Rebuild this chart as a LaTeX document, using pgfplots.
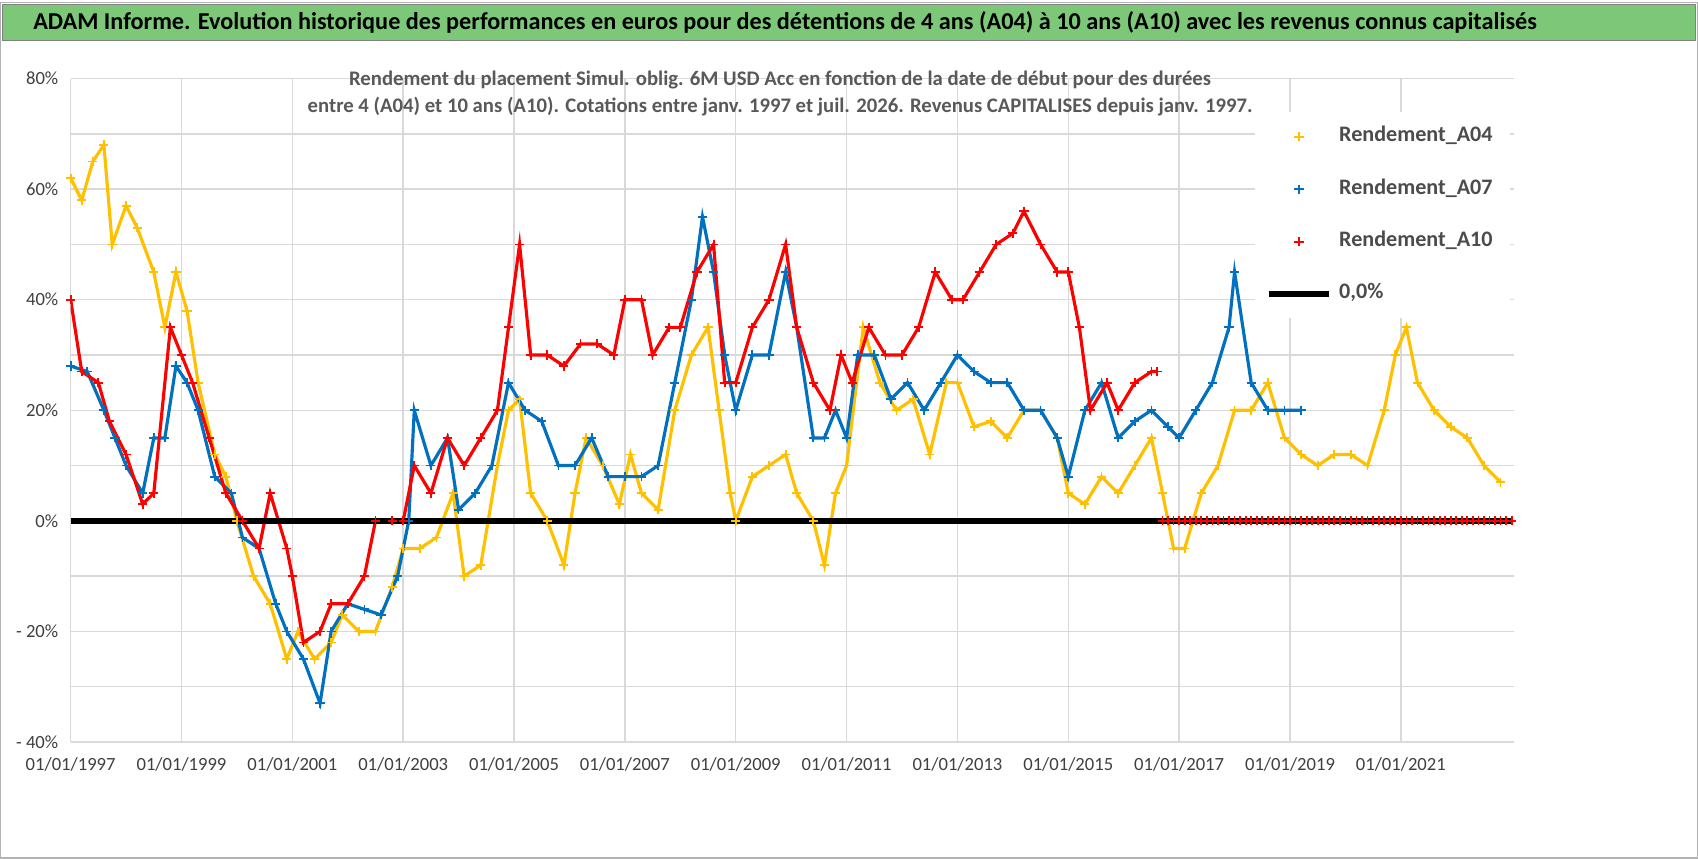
\documentclass[border=0pt]{standalone}
\usepackage{pgfplots}
\pgfplotsset{compat=1.18}
\usepackage{fontspec}
\setmainfont{Carlito}
\definecolor{cA}{RGB}{255,192,0}
\definecolor{cB}{RGB}{0,112,192}
\definecolor{cC}{RGB}{255,0,0}
\begin{document}
\begin{tikzpicture}
\path[fill=white,draw=gray!60] (0,0) rectangle (169.8mm,85.6mm);
\path[fill={rgb,255:red,125;green,200;blue,120},draw=gray] (0.2mm,81.8mm) rectangle (169.6mm,85.4mm);
\node[font=\fontsize{6.9}{8}\selectfont\bfseries] at (78.5mm,83.6mm) {ADAM Informe. Evolution historique des performances en euros pour des détentions de 4 ans (A04) à 10 ans (A10) avec les revenus connus capitalisés};
\begin{axis}[at={(7mm,11.6mm)},anchor=south west,scale only axis,width=144.5mm,height=66.4mm,
 xmin=1997,xmax=2023.05,ymin=-40,ymax=80,
 xtick={1997,1999,...,2021},
 xticklabels={01/01/1997,01/01/1999,01/01/2001,01/01/2003,01/01/2005,01/01/2007,01/01/2009,01/01/2011,01/01/2013,01/01/2015,01/01/2017,01/01/2019,01/01/2021},
 ytick={-40,-20,0,20,40,60,80},
 yticklabels={- 40\%,- 20\%,0\%,20\%,40\%,60\%,80\%},
 minor ytick={-30,-10,10,30,50,70},
 xmajorgrids,ymajorgrids,yminorgrids,
 grid style={gray!30,line width=0.4pt},
 minor grid style={gray!30,line width=0.4pt},
 axis line style={draw=none},tick style={draw=none},
 tick label style={font=\fontsize{5.3}{6}\selectfont,text=black!75},
 /pgf/number format/assume math mode=true,
 xticklabel style={yshift=-1pt},
 legend style={at={(0.82,0.95)},anchor=north west,draw=none,fill=white,font=\fontsize{6.3}{7.5}\selectfont\bfseries,text=black!70,row sep=5pt},
 legend cell align=left,
 every axis plot/.append style={mark=+,mark size=1.3pt,line width=0.9pt,mark options={line width=0.5pt}}]
\addplot[cA,legend image post style={only marks}] coordinates {(1997.0,62)(1997.2,58)(1997.4,65)(1997.6,68)(1997.75,50)(1998.0,57)(1998.2,53)(1998.5,45)(1998.7,35)(1998.9,45)(1999.1,38)(1999.3,25)(1999.6,12)(1999.8,8)(2000.0,0)(2000.3,-10)(2000.6,-15)(2000.9,-25)(2001.1,-20)(2001.4,-25)(2001.7,-22)(2001.9,-17)(2002.2,-20)(2002.5,-20)(2002.8,-12)(2003.0,-5)(2003.3,-5)(2003.6,-3)(2003.9,5)(2004.1,-10)(2004.4,-8)(2004.7,10)(2004.9,20)(2005.1,22)(2005.3,5)(2005.6,0)(2005.9,-8)(2006.1,5)(2006.3,15)(2006.6,10)(2006.9,3)(2007.1,12)(2007.3,5)(2007.6,2)(2007.9,20)(2008.2,30)(2008.5,35)(2008.7,20)(2008.9,5)(2009.0,0)(2009.3,8)(2009.6,10)(2009.9,12)(2010.1,5)(2010.4,0)(2010.6,-8)(2010.8,5)(2011.0,10)(2011.3,35)(2011.6,25)(2011.9,20)(2012.2,22)(2012.5,12)(2012.8,25)(2013.0,25)(2013.3,17)(2013.6,18)(2013.9,15)(2014.2,20)(2014.5,20)(2014.8,15)(2015.0,5)(2015.3,3)(2015.6,8)(2015.9,5)(2016.2,10)(2016.5,15)(2016.7,5)(2016.9,-5)(2017.1,-5)(2017.4,5)(2017.7,10)(2018.0,20)(2018.3,20)(2018.6,25)(2018.9,15)(2019.2,12)(2019.5,10)(2019.8,12)(2020.1,12)(2020.4,10)(2020.7,20)(2020.9,30)(2021.1,35)(2021.3,25)(2021.6,20)(2021.9,17)(2022.2,15)(2022.5,10)(2022.8,7)};
\addlegendentry{Rendement\_A04}
\addplot[cB,legend image post style={only marks}] coordinates {(1997.0,28)(1997.3,27)(1997.6,20)(1997.8,15)(1998.0,10)(1998.3,5)(1998.5,15)(1998.7,15)(1998.9,28)(1999.1,25)(1999.3,20)(1999.6,8)(1999.9,5)(2000.1,-3)(2000.4,-5)(2000.7,-15)(2000.9,-20)(2001.2,-25)(2001.5,-33)(2001.7,-20)(2002.0,-15)(2002.3,-16)(2002.6,-17)(2002.9,-10)(2003.1,0)(2003.2,20)(2003.5,10)(2003.8,15)(2004.0,2)(2004.3,5)(2004.6,10)(2004.9,25)(2005.2,20)(2005.5,18)(2005.8,10)(2006.1,10)(2006.4,15)(2006.7,8)(2007.0,8)(2007.3,8)(2007.6,10)(2007.9,25)(2008.2,40)(2008.4,55)(2008.6,45)(2008.8,30)(2009.0,20)(2009.3,30)(2009.6,30)(2009.9,45)(2010.1,35)(2010.4,15)(2010.6,15)(2010.8,20)(2011.0,15)(2011.2,30)(2011.5,30)(2011.8,22)(2012.1,25)(2012.4,20)(2012.7,25)(2013.0,30)(2013.3,27)(2013.6,25)(2013.9,25)(2014.2,20)(2014.5,20)(2014.8,15)(2015.0,8)(2015.3,20)(2015.6,25)(2015.9,15)(2016.2,18)(2016.5,20)(2016.8,17)(2017.0,15)(2017.3,20)(2017.6,25)(2017.9,35)(2018.0,45)(2018.3,25)(2018.6,20)(2018.9,20)(2019.2,20)};
\addlegendentry{Rendement\_A07}
\addplot[cC,legend image post style={only marks}] coordinates {(1997.0,40)(1997.2,27)(1997.5,25)(1997.7,18)(1998.0,12)(1998.3,3)(1998.5,5)(1998.8,35)(1999.0,30)(1999.2,25)(1999.5,15)(1999.8,5)(2000.1,0)(2000.4,-5)(2000.6,5)(2000.9,-5)(2001.0,-10)(2001.2,-22)(2001.5,-20)(2001.7,-15)(2002.0,-15)(2002.3,-10)(2002.5,0)(2002.8,0)(2003.0,0)(2003.2,10)(2003.5,5)(2003.8,15)(2004.1,10)(2004.4,15)(2004.7,20)(2004.9,35)(2005.1,50)(2005.3,30)(2005.6,30)(2005.9,28)(2006.2,32)(2006.5,32)(2006.8,30)(2007.0,40)(2007.3,40)(2007.5,30)(2007.8,35)(2008.0,35)(2008.3,45)(2008.6,50)(2008.8,25)(2009.0,25)(2009.3,35)(2009.6,40)(2009.9,50)(2010.1,35)(2010.4,25)(2010.7,20)(2010.9,30)(2011.1,25)(2011.4,35)(2011.7,30)(2012.0,30)(2012.3,35)(2012.6,45)(2012.9,40)(2013.1,40)(2013.4,45)(2013.7,50)(2014.0,52)(2014.2,56)(2014.5,50)(2014.8,45)(2015.0,45)(2015.2,35)(2015.4,20)(2015.7,25)(2015.9,20)(2016.2,25)(2016.5,27)(2016.6,27)};
\addlegendentry{Rendement\_A10}
\addplot[black,line width=1.8pt,mark=none,forget plot] coordinates {(1997,0)(2023,0)};
\addplot[cC,only marks,forget plot] coordinates {(2016.7,0)(2016.8,0)(2016.9,0)(2017.0,0)(2017.1,0)(2017.2,0)(2017.3,0)(2017.4,0)(2017.5,0)(2017.6,0)(2017.7,0)(2017.8,0)(2017.9,0)(2018.0,0)(2018.1,0)(2018.2,0)(2018.3,0)(2018.4,0)(2018.5,0)(2018.6,0)(2018.7,0)(2018.8,0)(2018.9,0)(2019.0,0)(2019.1,0)(2019.2,0)(2019.3,0)(2019.4,0)(2019.5,0)(2019.6,0)(2019.7,0)(2019.8,0)(2019.9,0)(2020.0,0)(2020.1,0)(2020.2,0)(2020.3,0)(2020.4,0)(2020.5,0)(2020.6,0)(2020.7,0)(2020.8,0)(2020.9,0)(2021.0,0)(2021.1,0)(2021.2,0)(2021.3,0)(2021.4,0)(2021.5,0)(2021.6,0)(2021.7,0)(2021.8,0)(2021.9,0)(2022.0,0)(2022.1,0)(2022.2,0)(2022.3,0)(2022.4,0)(2022.5,0)(2022.6,0)(2022.7,0)(2022.8,0)(2022.9,0)(2023.0,0)};
\addlegendimage{black,line width=1.8pt,mark=none}
\addlegendentry{0,0\%}
\end{axis}
\node[font=\fontsize{5.9}{7.8}\selectfont\bfseries,text=black!65,align=center] at (78mm,76.5mm) {Rendement du placement Simul. oblig. 6M USD Acc en fonction de la date de début pour des durées\\entre 4 (A04) et 10 ans (A10). Cotations entre janv. 1997 et juil. 2026. Revenus CAPITALISES depuis janv. 1997.};
\end{tikzpicture}
\end{document}
